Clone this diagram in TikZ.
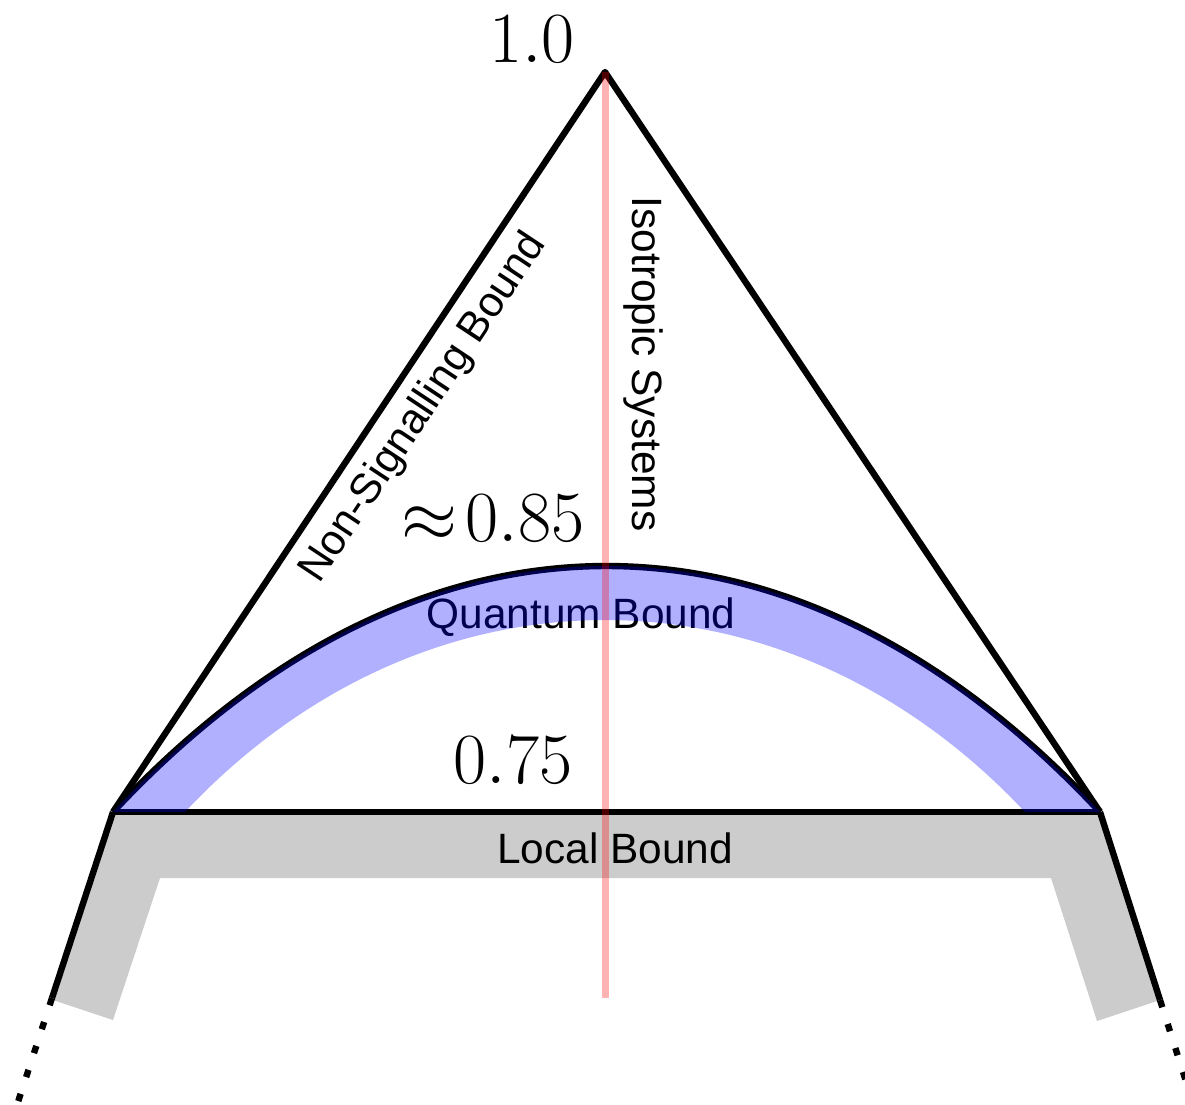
\documentclass[tikz,border=0pt]{standalone}
\usepackage{fix-cm}
\usepackage{fontspec}
\setsansfont{Liberation Sans}
\begin{document}
\begin{tikzpicture}[x=0.25pt,y=-0.25pt,
  edge/.style={line width=1.6pt, line join=round},
  dotleg/.style={line width=1.6pt, dash pattern=on 1.9pt off 4.4pt},
  lbl/.style={font=\sffamily\fontsize{10.6}{12}\selectfont, inner sep=0pt},
  val/.style={font=\fontsize{18}{22}\selectfont, inner sep=0pt},
  localband/.style={fill=black!20},
  quantband/.style={fill=blue, fill opacity=0.31},
  isoline/.style={draw=red, opacity=0.3, line width=1.75pt}]
\useasboundingbox (0,0) rectangle (1185,1104);
% key points
\coordinate (A) at (605,72);
\coordinate (L) at (113,812);
\coordinate (R) at (1100,812);
\coordinate (LL) at (52,998);
\coordinate (RL) at (1160,1000);
\coordinate (LD) at (16,1108);
\coordinate (RD) at (1190,1094);
\coordinate (IL) at (185,812);
\coordinate (IR) at (1025,812);
\coordinate (Rb) at (605,998);
% local band
\fill[localband] (L) -- (R) -- (1160,1000) -- (1097,1021) -- (1051,878)
  -- (160,878) -- (113,1020) -- (53,1000) -- cycle;
\node[lbl, anchor=base] (local) at (615,863) {Local Bound};
% black lines
\draw[edge] (L) -- (A) -- (R);
\draw[edge] (L) -- (R);
\draw[edge] (L) -- (LL);
\draw[edge] (R) -- (RL);
\draw[dotleg] (LL) -- (LD);
\draw[dotleg] (RL) -- (RD);
% quantum
\node[lbl, anchor=base] (quant) at (581,628) {Quantum Bound};
\draw[edge] (L) .. controls (419,484) and (794,484) .. (R);
\fill[quantband] (L) .. controls (419,484) and (794,484) .. (R) -- (IR)
  .. controls (785,556) and (425,556) .. (IL) -- cycle;
% labels
\node[val] (one) at (532,39) {$1.0$};
\node[val] (q) at (493,518) {$\approx\!0.85$};
\node[val] (l) at (513,760) {$0.75$};
\node[lbl, rotate=56.4] (ns) at (424,408) {Non-Signalling Bound};
\node[lbl, rotate=-90] (iso) at (643,364) {Isotropic Systems};
% isotropic line
\draw[isoline] (A) -- (Rb);
\end{tikzpicture}
\end{document}
